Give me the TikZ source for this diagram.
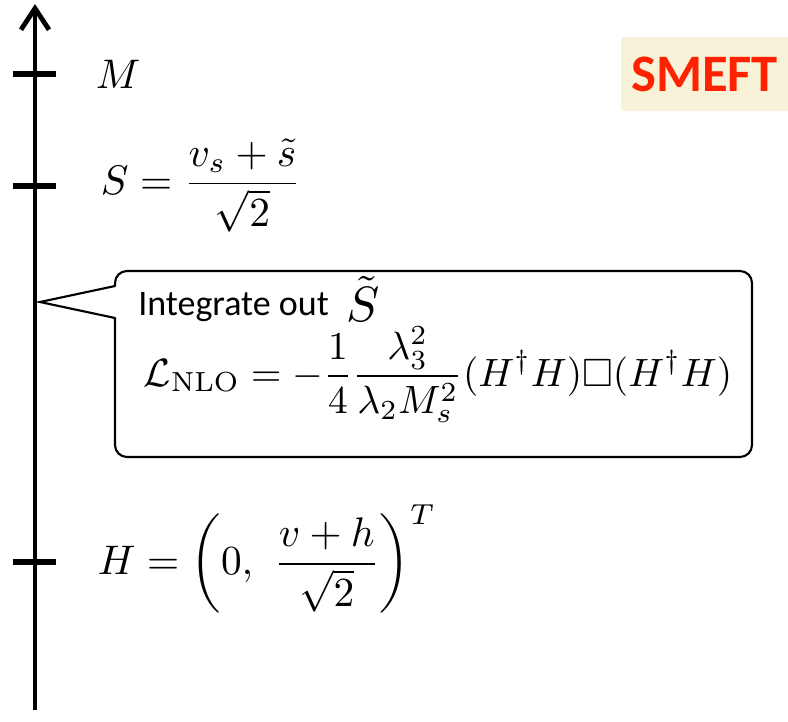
\documentclass[tikz,border=0pt]{standalone}
\usepackage{amsmath,amssymb}
\usepackage{fontspec}
\usepackage{tikz}
\usetikzlibrary{arrows.meta,positioning,calc}
\newfontfamily\calibri{Carlito}
\definecolor{smeftred}{HTML}{FF2200}
\definecolor{smeftbg}{HTML}{F8F2D9}
\tikzset{
  axisline/.style={line width=3.6pt, -{Straight Barb[length=16pt,width=21pt]}},
  tickmark/.style={line width=3.8pt},
  mathlabel/.style={anchor=base west, inner sep=0pt, scale=3.1},
  calloutbox/.style={rectangle, draw=black, fill=white, line width=1.6pt,
    rounded corners=9pt, minimum width=477.75pt, minimum height=139.5pt,
    inner sep=0pt},
  calloutline/.style={line width=1.6pt, line join=miter},
  tagbox/.style={rectangle, fill=smeftbg, text=smeftred,
    minimum width=125pt, minimum height=55pt, inner sep=0pt,
    font=\calibri\bfseries\fontsize{39.5}{44}\selectfont},
  introtext/.style={anchor=base west, inner sep=0pt,
    font=\calibri\fontsize{27}{30}\selectfont},
}
\begin{document}
\begin{tikzpicture}[x=0.75pt, y=-0.75pt]
\useasboundingbox (0,0) rectangle (788,721);
% energy axis
\coordinate (base) at (35,710);
\coordinate (top) at (35,4);
\draw[axisline] (base) -- (top);
\foreach \ty/\tn in {74/tm, 186/ts, 562/th}
  \draw[tickmark] (13,\ty) coordinate (\tn l) -- (56,\ty) coordinate (\tn r);
% scales
\node[mathlabel] (mscale) at (95,88) {$M$};
\node[mathlabel] (sfield) at (100,194) {$S=\dfrac{v_s+\tilde{s}}{\sqrt{2}}$};
\node[mathlabel] (hfield) at (97,574) {$H=\left(0,\ \dfrac{v+h}{\sqrt{2}}\right)^{T}$};
% callout
\node[calloutbox] (callout) at (433.5,364) {};
\coordinate (ptop) at (115,286);
\coordinate (pbot) at (115,318);
\coordinate (tip) at (40,302);
\fill[white] ([xshift=3pt]ptop) -- (tip) -- ([xshift=3pt]pbot) -- cycle;
\draw[calloutline] (ptop) -- (tip) -- (pbot);
\node[introtext] (intro) at (138,315) {Integrate out};
\node[mathlabel, scale=1.2, anchor=base west] (stilde) at ([xshift=12pt,yshift=-5pt]intro.base east) {$\tilde{S}$};
\node[mathlabel, scale=0.955] (lnlo) at (143,386)
  {$\displaystyle\mathcal{L}_{\mathrm{NLO}}=-\frac{1}{4}\frac{\lambda_3^2}{\lambda_2M_s^2}(H^\dagger H)\Box(H^\dagger H)$};
% label
\node[tagbox, anchor=north west] (smeft) at (621,37) {SMEFT};
\end{tikzpicture}
\end{document}
